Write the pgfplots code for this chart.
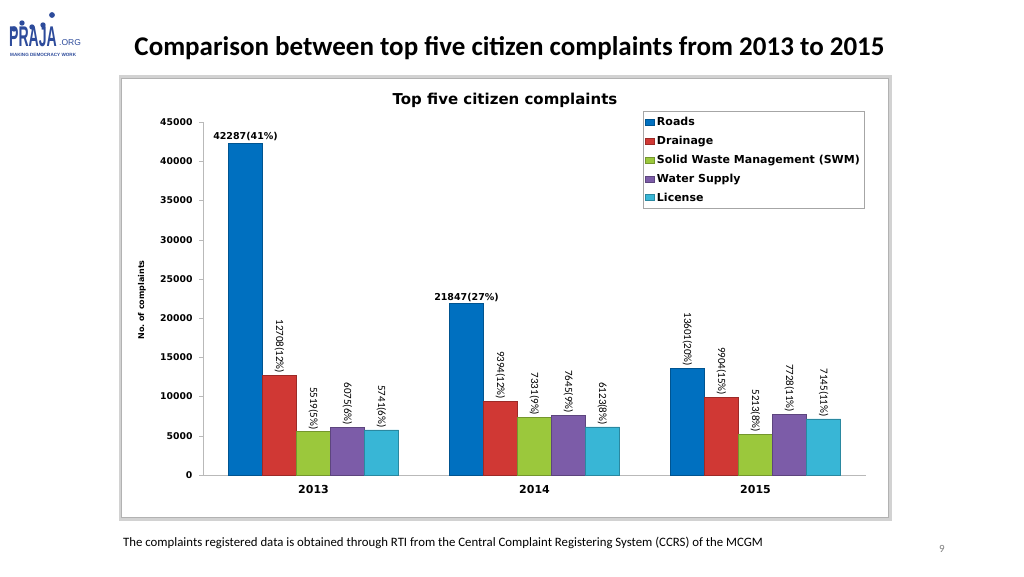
\documentclass[border=0pt]{standalone}
\usepackage{fontspec}
\setmainfont{Carlito}
\newfontfamily\chartfont{DejaVu Sans}
\newfontfamily\lsans{Liberation Sans}
\usepackage{pgfplots}
\usepackage{pgfplotstable}
\pgfplotsset{compat=1.18}

\definecolor{cRoads}{RGB}{0,112,192}
\definecolor{cDrain}{RGB}{208,56,52}
\definecolor{cSWM}{RGB}{155,200,60}
\definecolor{cWater}{RGB}{124,92,168}
\definecolor{cLic}{RGB}{56,182,214}
\definecolor{praja}{RGB}{45,75,155}

% rot: rotation of the value label; anc: anchor angle (-90 = south, 0 = east)
\pgfplotstableread{
x y lab rot anc
0 42287 42287(41\%) 0 -90
1 21847 21847(27\%) 0 -90
2 13601 13601(20\%) -90 0
}\roads
\pgfplotstableread{
x y lab rot anc
0 12708 12708(12\%) -90 0
1 9394 9394(12\%) -90 0
2 9904 9904(15\%) -90 0
}\drain
\pgfplotstableread{
x y lab rot anc
0 5519 5519(5\%) -90 0
1 7331 7331(9\%) -90 0
2 5213 5213(8\%) -90 0
}\swm
\pgfplotstableread{
x y lab rot anc
0 6075 6075(6\%) -90 0
1 7645 7645(9\%) -90 0
2 7728 7728(11\%) -90 0
}\water
\pgfplotstableread{
x y lab rot anc
0 5741 5741(6\%) -90 0
1 6123 6123(8\%) -90 0
2 7145 7145(11\%) -90 0
}\license

\newcommand\labfont{\ifdim\myrot pt=0pt \chartfont\bfseries\fontsize{9.5}{11}\selectfont\else\fontsize{11}{12}\selectfont\fi}
\tikzset{barsty/.style={fill=#1, draw=#1!75!black, line width=0.5pt}}

\begin{document}
\begin{tikzpicture}
\fill[white] (0pt,0pt) rectangle (1024pt,576pt);
\path[use as bounding box] (0pt,0pt) rectangle (1024pt,576pt);

% logo
\fill[praja] (14pt,547pt) circle (2.7pt);
\fill[praja] (22pt,553pt) circle (2.7pt);
\fill[praja] (32pt,549pt) circle (2.7pt);
\fill[praja] (43pt,551pt) circle (2.7pt);
\fill[praja] (52pt,561pt) circle (2.9pt);
\node[anchor=west, inner sep=0pt, text=praja, font=\lsans\bfseries\fontsize{19}{19}\selectfont] at (9pt,539pt) {\scalebox{0.74}[1.5]{PRAJA}};
\node[anchor=west, inner sep=0pt, text=praja, font=\lsans\fontsize{8.5}{8.5}\selectfont] at (59pt,533pt) {.ORG};
\node[anchor=west, inner sep=0pt, text=praja, font=\lsans\bfseries\fontsize{4.6}{5}\selectfont] at (10pt,521pt) {MAKING DEMOCRACY WORK};

% slide title
\node[font=\bfseries\fontsize{27}{31}\selectfont] at (509.5pt,528pt) {Comparison between top five citizen complaints from 2013 to 2015};

% chart frame
\draw[line width=3pt, color=gray!35] (120pt,57pt) rectangle (890pt,499pt);
\draw[line width=0.6pt, color=gray!60] (121.5pt,58.5pt) rectangle (888.5pt,497.5pt);

\node[font=\chartfont\bfseries\fontsize{15}{17}\selectfont] at (505pt,476pt) {Top five citizen complaints};

\begin{axis}[
  at={(203pt,101pt)}, anchor=south west,
  scale only axis, width=663pt, height=353pt,
  ybar=0pt, bar width=34pt,
  xmin=-0.5, xmax=2.5, ymin=0, ymax=45000,
  xtick={0,1,2}, xticklabels={2013,2014,2015},
  ytick={0,5000,...,45000},
  scaled y ticks=false,
  axis x line*=bottom, axis y line*=left,
  axis line style={draw=gray!55, line width=0.8pt},
  x tick style={draw=none},
  y tick style={draw=gray!55},
  tick align=outside, major tick length=4pt,
  /pgf/number format/assume math mode=true,
  /pgf/number format/1000 sep={},
  yticklabel style={font=\chartfont\bfseries\fontsize{9.3}{10}\selectfont, xshift=-3pt},
  xticklabel style={font=\chartfont\bfseries\fontsize{11}{13}\selectfont, yshift=-3pt},
  ylabel={No.\ of complaints},
  ylabel style={at={(axis description cs:-0.092,0.496)}, anchor=center, font=\chartfont\bfseries\fontsize{8}{10}\selectfont},
  point meta=explicit symbolic,
  visualization depends on={\thisrow{rot} \as \myrot},
  visualization depends on={\thisrow{anc} \as \myanc},
  nodes near coords={\labfont\pgfplotspointmeta},
  nodes near coords style={rotate=\myrot, anchor=\myanc, inner sep=2pt},
  legend style={at={(0.997,1.031)}, anchor=north east, font=\chartfont\bfseries\fontsize{11}{12}\selectfont, draw=gray!70, row sep=5pt, inner ysep=4pt, inner xsep=2pt, cells={anchor=west}},
  legend image code/.code={\fill[#1] (0pt,-3pt) rectangle (9pt,3pt);},
  clip=false,
]
\addplot[barsty=cRoads] table[x=x,y=y,meta=lab] {\roads};
\addplot[barsty=cDrain] table[x=x,y=y,meta=lab] {\drain};
\addplot[barsty=cSWM] table[x=x,y=y,meta=lab] {\swm};
\addplot[barsty=cWater] table[x=x,y=y,meta=lab] {\water};
\addplot[barsty=cLic] table[x=x,y=y,meta=lab] {\license};
\legend{Roads, Drainage, Solid Waste Management (SWM), Water Supply, License}
\end{axis}

% footnote
\node[anchor=west, inner sep=0pt, font=\fontsize{12.8}{14}\selectfont] at (123pt,33pt) {The complaints registered data is obtained through RTI from the Central Complaint Registering System (CCRS) of the MCGM};
\node[font=\fontsize{11}{13}\selectfont, text=gray] at (942pt,27pt) {9};
\end{tikzpicture}
\end{document}
